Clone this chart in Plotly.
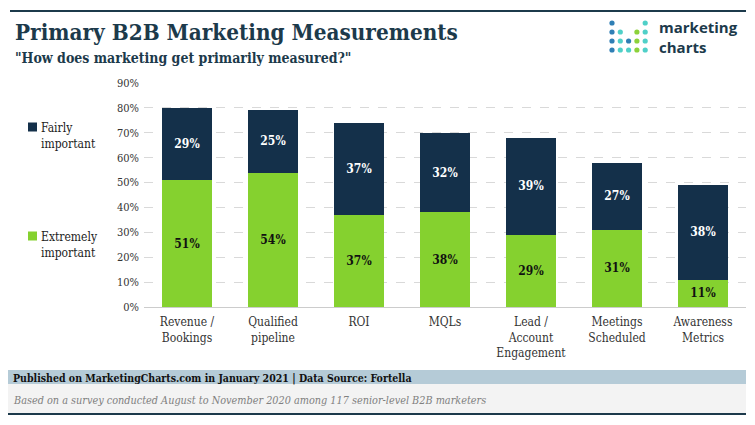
import plotly.graph_objects as go

categories = ["Revenue /<br>Bookings", "Qualified<br>pipeline", "ROI", "MQLs",
              "Lead /<br>Account<br>Engagement", "Meetings<br>Scheduled", "Awareness<br>Metrics"]
extremely = [51, 54, 37, 38, 29, 31, 11]
fairly = [29, 25, 37, 32, 39, 27, 38]
y_ticks = [0, 10, 20, 30, 40, 50, 60, 70, 80, 90]
y_tick_labels = [f"{v}%" for v in y_ticks]

DARK = "#14304A"
GREEN = "#85D12F"
SERIFC = "DejaVu Serif Condensed, DejaVu Serif, serif"

OFF = 8  # browser body margin
W, H = 747, 417
L, R, T, B = 136, 9, 75, 118
PW, PH = W - L - R, H - T - B

def xp(x):
    return (x - OFF - L) / PW

def yp(y):
    return (H - B - (y - OFF)) / PH

fig = go.Figure()
fig.add_trace(go.Bar(
    x=categories, y=extremely, name="Extremely important",
    marker=dict(color=GREEN, line=dict(width=0)),
    text=[f"{v}%" for v in extremely], textposition="inside",
    insidetextanchor="middle",
    textfont=dict(color="#111111", size=12, family=SERIFC, weight="bold"),
))
fig.add_trace(go.Bar(
    x=categories, y=fairly, name="Fairly important",
    marker=dict(color=DARK, line=dict(width=0)),
    text=[f"{v}%" for v in fairly], textposition="inside",
    insidetextanchor="middle",
    textfont=dict(color="#ffffff", size=12, family=SERIFC, weight="bold"),
))

shapes = []
annotations = []

def note(text, x, y, size, color, family=SERIFC, xanchor="left", yanchor="middle", **kw):
    ann = dict(text=text, x=xp(x), y=yp(y), xref="paper", yref="paper",
               xanchor=xanchor, yanchor=yanchor, showarrow=False, align="left",
               font=dict(family=family, size=size, color=color))
    ann.update(kw)
    annotations.append(ann)

# top rule
shapes.append(dict(type="line", xref="paper", yref="paper", x0=xp(10), x1=xp(746),
                   y0=yp(11), y1=yp(11), line=dict(color="#1c3a4b", width=2)))
# footer bands
shapes.append(dict(type="rect", xref="paper", yref="paper", x0=xp(8), x1=xp(746),
                   y0=yp(384), y1=yp(370), fillcolor="#b5cbd7", line=dict(width=0), layer="below"))
shapes.append(dict(type="rect", xref="paper", yref="paper", x0=xp(8), x1=xp(746),
                   y0=yp(413), y1=yp(384), fillcolor="#f3f3f3", line=dict(width=0), layer="below"))
shapes.append(dict(type="line", xref="paper", yref="paper", x0=xp(8), x1=xp(746),
                   y0=yp(414), y1=yp(414), line=dict(color="#1c3a4b", width=2)))

# legend squares
for ycen, col in [(127, DARK), (236, GREEN)]:
    shapes.append(dict(type="rect", xref="paper", yref="paper", x0=xp(28), x1=xp(37),
                       y0=yp(ycen + 4.5), y1=yp(ycen - 4.5), fillcolor=col, line=dict(width=0)))
note("Fairly<br>important", 39, 119, 12, "#222222", yanchor="top")
note("Extremely<br>important", 39, 228, 12, "#222222", yanchor="top")

# title & subtitle
note("<b>Primary B2B Marketing Measurements</b>", 13, 17, 22.3, "#1c3a4b", yanchor="top")
note("<b>\"How does marketing get primarily measured?\"</b>", 13, 48, 14, "#1c3a4b", yanchor="top")

# footer text
note("<b>Published on MarketingCharts.com in January 2021 | Data Source: Fortella</b>",
     11, 378, 10.5, "#111111")
note("<i>Based on a survey conducted August to November 2020 among 117 senior-level B2B marketers</i>",
     11, 400, 10.8, "#808080")

# logo dots
blue, teal, lgreen = "#2f7fb5", "#4fd0c8", "#8cd23a"
logo = [
    [blue, None, None, None, teal],
    [blue, teal, None, lgreen, teal],
    [blue, teal, blue, lgreen, teal],
    [blue, teal, teal, lgreen, teal],
]
for r, row in enumerate(logo):
    for c, col in enumerate(row):
        if col is None:
            continue
        cx, cy = 612 + c * 8.3, 23 + r * 9
        shapes.append(dict(type="circle", xref="paper", yref="paper",
                           x0=xp(cx - 2.6), x1=xp(cx + 2.6), y0=yp(cy + 2.6), y1=yp(cy - 2.6),
                           fillcolor=col, line=dict(width=0)))
note("<b>marketing<br>charts</b>", 657, 37, 15, "#1c3a4b", family="Open Sans, sans-serif")

fig.update_layout(
    width=W, height=H, barmode="stack", bargap=0.43,
    margin=dict(l=L, r=R, t=T, b=B, pad=0),
    paper_bgcolor="white", plot_bgcolor="white",
    showlegend=False, shapes=shapes, annotations=annotations,
    uniformtext=dict(minsize=8, mode="show"),
    xaxis=dict(tickfont=dict(family=SERIFC, size=12, color="#333333"), showgrid=False,
               showline=False, ticks="", ticklabelstandoff=6),
    yaxis=dict(range=[0, 90], tickvals=y_ticks, ticktext=y_tick_labels,
               tickfont=dict(family=SERIFC, size=11, color="#333333"),
               showgrid=True, gridcolor="#d9d9d9", griddash="dash", gridwidth=1,
               zeroline=True, zerolinecolor="#cccccc", zerolinewidth=1,
               showline=False, ticks="", ticklen=0, ticklabelstandoff=4),
)
fig.write_html("out.html")
